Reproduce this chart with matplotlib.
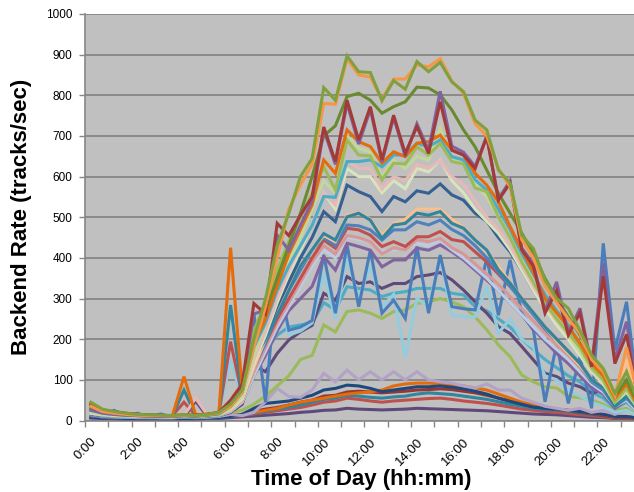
import matplotlib
matplotlib.use("Agg")
import matplotlib.pyplot as plt
import numpy as np

plt.rcParams['font.family'] = ['Liberation Sans', 'DejaVu Sans']

times = [f"{h}:{m:02d}" for h in range(24) for m in (0, 30)]
tick_labels = ["0:00", "2:00", "4:00", "6:00", "8:00", "10:00",
               "12:00", "14:00", "16:00", "18:00", "20:00", "22:00"]

# ---- series values (tracks/sec), one value per half hour 0:00 .. 23:30 ----
g7_purple_low = [6, 5, 5, 4, 4, 4, 4, 4, 4, 4, 5, 5,
                 7, 9, 11, 13, 15, 17, 20, 22,
                 25, 26, 30, 28, 27, 26, 27, 28,
                 30, 29, 28, 27, 26, 25, 24, 22,
                 20, 18, 16, 15, 14, 12, 10, 8,
                 7, 5, 5, 4]
g6_red_low = [9, 7, 6, 6, 5, 5, 5, 5, 6, 5, 6, 7,
              10, 12, 16, 20, 24, 28, 32, 38,
              45, 48, 55, 52, 48, 45, 48, 50,
              52, 54, 55, 52, 48, 45, 42, 38,
              33, 28, 25, 22, 20, 17, 14, 12,
              9, 6, 6, 4]
g5_teal_low = [9, 7, 6, 6, 6, 5, 5, 5, 6, 5, 6, 7,
               10, 14, 18, 22, 28, 32, 38, 45,
               52, 55, 62, 60, 57, 55, 58, 60,
               65, 68, 66, 64, 60, 56, 52, 46,
               40, 35, 30, 27, 25, 22, 18, 15,
               12, 8, 8, 5]
g4_darkred_low = [10, 8, 7, 7, 6, 6, 6, 6, 7, 6, 7, 8,
                  12, 15, 22, 28, 32, 38, 45, 50,
                  60, 62, 70, 72, 70, 68, 70, 72,
                  75, 76, 78, 76, 72, 68, 62, 55,
                  48, 40, 34, 30, 27, 24, 20, 16,
                  12, 8, 8, 5]
g2_orange_low = [10, 8, 7, 7, 6, 6, 6, 6, 7, 6, 7, 8,
                 12, 15, 20, 25, 30, 38, 45, 50,
                 55, 60, 65, 68, 70, 75, 85, 90,
                 92, 92, 90, 88, 85, 80, 75, 65,
                 55, 45, 38, 32, 28, 25, 22, 18,
                 15, 10, 10, 6]
g3_navy = [8, 6, 6, 5, 5, 5, 5, 5, 5, 5, 6, 7,
           10, 15, 30, 42, 45, 48, 55, 62,
           75, 79, 87, 85, 79, 71, 75, 79,
           83, 83, 85, 82, 78, 72, 65, 55,
           47, 40, 33, 30, 28, 25, 22, 18,
           15, 10, 10, 6]
g1_lavender = [12, 9, 8, 8, 7, 7, 7, 7, 8, 7, 8, 10,
               15, 12, 20, 46, 79, 59, 57, 75,
               116, 95, 124, 100, 120, 100, 120, 100,
               120, 100, 95, 92, 85, 80, 90, 75,
               75, 55, 45, 35, 30, 25, 30, 20,
               25, 15, 25, 10]
f3_lightgreen = [16, 12, 10, 9, 9, 8, 8, 8, 9, 8, 10, 12,
                 20, 25, 40, 60, 85, 110, 150, 160,
                 235, 218, 268, 272, 264, 251, 268, 272,
                 288, 292, 300, 292, 280, 255, 223, 186,
                 157, 112, 95, 83, 80, 59, 56, 50,
                 40, 25, 30, 12]
f2_aqua_mid = [14, 10, 9, 8, 8, 7, 7, 7, 8, 8, 9, 11,
               22, 45, 110, 170, 210, 230, 235, 240,
               290, 272, 329, 325, 321, 305, 313, 317,
               325, 325, 325, 313, 309, 280, 270, 250,
               230, 200, 175, 150, 130, 110, 95, 70,
               55, 30, 45, 20]
f1_darkpurple = [12, 9, 8, 8, 7, 7, 7, 7, 8, 48, 10, 12,
                 20, 40, 136, 120, 165, 198, 218, 234,
                 313, 296, 354, 337, 341, 325, 337, 337,
                 354, 358, 364, 346, 321, 292, 264, 231,
                 214, 182, 149, 116, 108, 92, 83, 67,
                 75, 38, 60, 20]
e2_lightblue = [14, 10, 9, 8, 8, 8, 7, 7, 8, 8, 9, 11,
                150, 50, 150, 190, 333, 210, 220, 240,
                360, 250, 400, 300, 380, 280, 310, 155,
                300, 280, 400, 260, 255, 255, 330, 215,
                250, 200, 180, 110, 100, 75, 60, 45,
                35, 20, 25, 10]
e1_blue_zig = [15, 12, 25, 10, 18, 9, 16, 8, 9, 8, 10, 12,
               25, 60, 264, 45, 366, 222, 230, 246,
               407, 264, 432, 280, 419, 264, 296, 251,
               428, 264, 407, 280, 275, 272, 400, 259,
               395, 264, 222, 46, 190, 42, 157, 30,
               436, 173, 292, 60]
d7_purple = [18, 13, 11, 10, 9, 9, 8, 8, 9, 9, 10, 12,
             22, 45, 110, 160, 220, 270, 300, 330,
             403, 370, 436, 428, 419, 378, 395, 395,
             424, 419, 432, 415, 395, 370, 345, 320,
             290, 260, 225, 195, 165, 140, 110, 80,
             65, 30, 50, 20]
d6_lightblue2 = [16, 12, 10, 9, 9, 8, 8, 8, 9, 8, 10, 12,
                 22, 45, 110, 170, 230, 280, 330, 380,
                 420, 400, 452, 445, 440, 415, 419, 425,
                 435, 430, 444, 420, 400, 375, 350, 320,
                 290, 260, 230, 200, 175, 150, 120, 90,
                 70, 35, 50, 20]
d5_salmon = [20, 14, 12, 11, 10, 9, 9, 8, 10, 9, 11, 13,
             25, 50, 120, 180, 240, 290, 340, 390,
             430, 410, 455, 450, 440, 410, 425, 420,
             445, 440, 448, 425, 410, 385, 360, 335,
             305, 275, 245, 215, 185, 160, 130, 95,
             75, 35, 55, 25]
d4_red = [38, 24, 20, 17, 15, 13, 12, 12, 45, 13, 15, 18,
          194, 60, 140, 190, 250, 300, 350, 400,
          444, 424, 473, 469, 456, 428, 440, 428,
          452, 452, 465, 445, 440, 415, 390, 360,
          330, 300, 265, 230, 200, 170, 140, 100,
          80, 40, 60, 25]
d3_blue = [15, 11, 10, 9, 9, 8, 8, 8, 9, 8, 10, 12,
           25, 50, 130, 190, 260, 320, 370, 420,
           450, 430, 481, 479, 469, 444, 469, 469,
           489, 481, 493, 470, 455, 430, 400, 365,
           330, 295, 260, 225, 195, 165, 135, 95,
           75, 35, 55, 25]
d2_lightorange = [18, 13, 11, 10, 9, 9, 8, 8, 10, 9, 11, 13,
                  25, 50, 130, 200, 270, 330, 380, 420,
                  455, 440, 505, 512, 495, 455, 485, 495,
                  520, 520, 520, 495, 475, 445, 415, 380,
                  340, 300, 265, 230, 195, 165, 135, 100,
                  80, 40, 150, 40]
d1_teal = [35, 22, 18, 15, 13, 12, 12, 11, 75, 13, 15, 18,
           284, 60, 150, 200, 260, 320, 380, 420,
           460, 444, 501, 510, 493, 448, 481, 485,
           510, 505, 514, 485, 473, 444, 419, 370,
           338, 300, 265, 230, 200, 170, 140, 100,
           80, 35, 60, 25]
c1_darkblue = [20, 14, 12, 11, 10, 9, 9, 9, 10, 10, 11, 14,
               30, 60, 150, 210, 280, 340, 400, 450,
               514, 489, 579, 563, 551, 514, 551, 538,
               565, 559, 582, 555, 542, 510, 490, 450,
               415, 370, 320, 280, 245, 210, 180, 140,
               100, 55, 80, 35]
b6_palegreen = [18, 14, 12, 11, 10, 9, 9, 9, 10, 10, 12, 14,
                28, 55, 140, 210, 290, 360, 420, 480,
                560, 520, 620, 600, 600, 560, 590, 570,
                620, 612, 641, 590, 560, 520, 490, 460,
                420, 370, 320, 275, 235, 200, 160, 120,
                90, 45, 70, 30]
b4_pink = [22, 16, 14, 12, 11, 10, 10, 9, 12, 55, 14, 16,
           30, 60, 150, 220, 300, 370, 430, 480,
           560, 530, 640, 620, 620, 570, 600, 590,
           630, 620, 640, 600, 580, 540, 500, 470,
           430, 380, 330, 285, 245, 210, 170, 125,
           95, 50, 75, 30]
b5_lightgreen = [20, 15, 13, 12, 11, 10, 10, 9, 11, 10, 12, 15,
                 30, 60, 160, 240, 320, 390, 450, 520,
                 590, 560, 700, 670, 660, 600, 640, 620,
                 650, 640, 719, 640, 630, 580, 550, 500,
                 450, 395, 340, 290, 250, 210, 170, 125,
                 95, 45, 70, 30]
b3_aqua = [28, 18, 15, 13, 12, 11, 10, 10, 12, 11, 13, 16,
           35, 70, 180, 240, 320, 380, 430, 480,
           551, 549, 637, 637, 641, 624, 653, 653,
           682, 674, 690, 649, 641, 592, 567, 520,
           470, 410, 360, 310, 270, 235, 190, 140,
           105, 55, 90, 40]
b2_green = [42, 26, 20, 17, 14, 13, 12, 12, 13, 12, 15, 19,
            40, 80, 220, 290, 370, 440, 500, 560,
            624, 567, 690, 653, 651, 592, 633, 631,
            673, 653, 682, 637, 631, 572, 563, 501,
            450, 390, 340, 290, 250, 215, 180, 130,
            100, 45, 80, 30]
b1_brownorange = [30, 20, 17, 15, 13, 12, 12, 11, 108, 14, 16, 20,
                  425, 75, 190, 250, 330, 410, 470, 530,
                  641, 608, 715, 686, 674, 633, 661, 649,
                  682, 686, 702, 665, 653, 608, 579, 538,
                  477, 420, 365, 300, 265, 230, 190, 140,
                  110, 55, 90, 35]
a3_darkolive = [30, 20, 16, 14, 12, 11, 10, 10, 12, 11, 13, 17,
                35, 70, 200, 270, 350, 430, 510, 600,
                700, 725, 797, 805, 788, 756, 772, 784,
                820, 818, 801, 764, 715, 673, 616, 559,
                510, 461, 410, 350, 300, 255, 210, 160,
                120, 60, 100, 40]
a5_purple_zig = [25, 18, 15, 13, 12, 11, 10, 10, 12, 11, 14, 18,
                 45, 85, 262, 272, 456, 419, 480, 540,
                 715, 630, 780, 680, 765, 636, 745, 650,
                 730, 665, 810, 675, 660, 625, 700, 545,
                 590, 425, 385, 270, 341, 215, 276, 135,
                 387, 150, 243, 60]
a4_darkred_zig = [40, 25, 22, 18, 15, 14, 13, 12, 14, 13, 15, 20,
                  50, 90, 288, 262, 485, 455, 505, 550,
                  722, 637, 788, 690, 772, 641, 751, 657,
                  723, 657, 784, 665, 653, 620, 698, 542,
                  584, 420, 380, 264, 320, 210, 265, 132,
                  355, 140, 212, 50]
a2_orange = [35, 22, 18, 15, 13, 12, 12, 11, 13, 12, 14, 18,
             35, 70, 180, 280, 400, 520, 580, 630,
             780, 778, 890, 850, 845, 790, 840, 840,
             875, 870, 890, 835, 805, 730, 700, 620,
             575, 445, 400, 330, 290, 250, 215, 150,
             120, 60, 180, 60]
a1_green = [45, 28, 22, 18, 15, 14, 13, 12, 14, 12, 15, 20,
            40, 75, 200, 300, 430, 510, 600, 645,
            819, 788, 897, 858, 856, 787, 836, 815,
            883, 858, 881, 833, 809, 739, 715, 616,
            584, 456, 423, 345, 300, 276, 222, 161,
            128, 67, 120, 45]

series = [
    (g7_purple_low, "#5F497A"),
    (g6_red_low, "#C0504D"),
    (g5_teal_low, "#31859C"),
    (g4_darkred_low, "#953735"),
    (g2_orange_low, "#E46C0A"),
    (g3_navy, "#1F497D"),
    (g1_lavender, "#B3A2C7"),
    (f3_lightgreen, "#9BBB59"),
    (f2_aqua_mid, "#4BACC6"),
    (f1_darkpurple, "#5F497A"),
    (e2_lightblue, "#93CDDD"),
    (e1_blue_zig, "#4A7EBB"),
    (d7_purple, "#8064A2"),
    (d6_lightblue2, "#B9CDE5"),
    (d5_salmon, "#D99694"),
    (d4_red, "#C0504D"),
    (d3_blue, "#4F81BD"),
    (d2_lightorange, "#FABF8F"),
    (d1_teal, "#31859C"),
    (c1_darkblue, "#376092"),
    (b6_palegreen, "#D7E4BD"),
    (b4_pink, "#E6B9B8"),
    (b5_lightgreen, "#C3D69B"),
    (b3_aqua, "#4BACC6"),
    (b2_green, "#9BBB59"),
    (b1_brownorange, "#E46C0A"),
    (a3_darkolive, "#6A8A30"),
    (a5_purple_zig, "#8064A2"),
    (a4_darkred_zig, "#A33A3A"),
    (a2_orange, "#F79646"),
    (a1_green, "#7FA03C"),
]

W, H = 634, 492
fig = plt.figure(figsize=(W / 100, H / 100), dpi=100)
ax = fig.add_axes([85 / W, (H - 420.5) / H, 559 / W, 406.5 / H])
ax.set_facecolor("#C0C0C0")

x = np.arange(len(times))
for vals, col in series:
    ax.plot(x, vals, color=col, lw=2.2, solid_joinstyle="miter", zorder=3)

ax.set_xlim(-0.5, len(times) - 0.5)
ax.set_ylim(0, 1000)
ax.set_yticks(np.arange(0, 1001, 100))
ax.yaxis.grid(True, color="#868686", lw=1.3, zorder=1)
ax.set_axisbelow(True)

# tick marks at category boundaries every hour; labels at every 2 hours
ax.set_xticks(np.arange(-0.5, len(times), 2))
ax.set_xticklabels([])
ax.tick_params(axis="x", which="major", length=4, width=1, color="#868686", direction="out")
label_pos = [times.index(t) for t in tick_labels]
ax.set_xticks(label_pos, minor=True)
ax.set_xticklabels(tick_labels, minor=True, rotation=45, ha="right",
                   rotation_mode="anchor", fontsize=9.5)
ax.tick_params(axis="x", which="minor", length=0, pad=11)
ax.tick_params(axis="y", length=4, width=1, color="#868686", pad=5, labelsize=8.5)

for s in ("top", "right"):
    ax.spines[s].set_visible(False)
for s in ("left", "bottom"):
    ax.spines[s].set_color("#868686")
    ax.spines[s].set_linewidth(1.2)

fig.text(361 / W, 1 - 479 / H, "Time of Day (hh:mm)", ha="center", va="center",
         fontsize=16, fontweight="bold")
fig.text(22 / W, 1 - 217 / H, "Backend Rate (tracks/sec)", ha="center", va="center",
         rotation=90, fontsize=16, fontweight="bold")

fig.savefig("out.png", dpi=100)
